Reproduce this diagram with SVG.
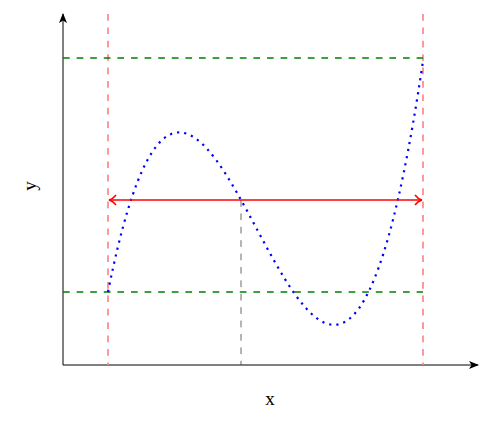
<svg xmlns="http://www.w3.org/2000/svg" width="500" height="424" viewBox="0 0 500 424">
<style>
.axis{stroke:#000;stroke-width:1;fill:none}
.vred{stroke:#ff7f7f;stroke-width:1.6;stroke-dasharray:6.7 6.7;fill:none}
.hgreen{stroke:#008000;stroke-width:1.6;stroke-dasharray:6.7 6.9;fill:none}
.gray{stroke:#444;stroke-width:0.8;stroke-dasharray:6.7 6.7;fill:none}
.curve{stroke:#0000ff;stroke-width:2.2;stroke-dasharray:2.2 5;fill:none}
.lbl{font-family:"Liberation Serif","DejaVu Serif",serif;font-size:19px;fill:#000}
</style>
<defs>
<marker id="ah" viewBox="0 0 10 10" refX="9" refY="5" markerWidth="10" markerHeight="10" markerUnits="userSpaceOnUse" orient="auto">
<path d="M0,1 L10,5 L0,9 L2.5,5 Z" fill="#000"/>
</marker>
<marker id="rh" viewBox="0 0 10 12" refX="9" refY="6" markerWidth="10" markerHeight="12" markerUnits="userSpaceOnUse" orient="auto-start-reverse">
<path d="M2,1 Q5,5 9,6 Q5,7 2,11" fill="none" stroke="#ff0000" stroke-width="1.5"/>
</marker>
</defs>
<g id="axes">
<line class="axis" x1="63" y1="365" x2="63" y2="14" marker-end="url(#ah)"/>
<line class="axis" x1="63" y1="365" x2="478" y2="365" marker-end="url(#ah)"/>
</g>
<g id="guides">
<line class="vred" x1="108" y1="14" x2="108" y2="365"/>
<line class="vred" x1="423" y1="14" x2="423" y2="365"/>
<line class="hgreen" x1="63" y1="58" x2="423" y2="58"/>
<line class="hgreen" x1="63" y1="292" x2="423" y2="292"/>
<line class="gray" x1="241" y1="200" x2="241" y2="365"/>
</g>
<g id="curve">
<path class="curve" d="M108,292 C213,-233.9 318,769.9 423,61"/>
</g>
<g id="arrow">
<line x1="109" y1="200" x2="422" y2="200" stroke="#ff0000" stroke-width="1.6" marker-start="url(#rh)" marker-end="url(#rh)"/>
</g>
<g id="labels">
<text class="lbl" x="270" y="405" text-anchor="middle">x</text>
<text class="lbl" x="0" y="0" text-anchor="middle" transform="translate(36,186) rotate(-90)">y</text>
</g>
</svg>
